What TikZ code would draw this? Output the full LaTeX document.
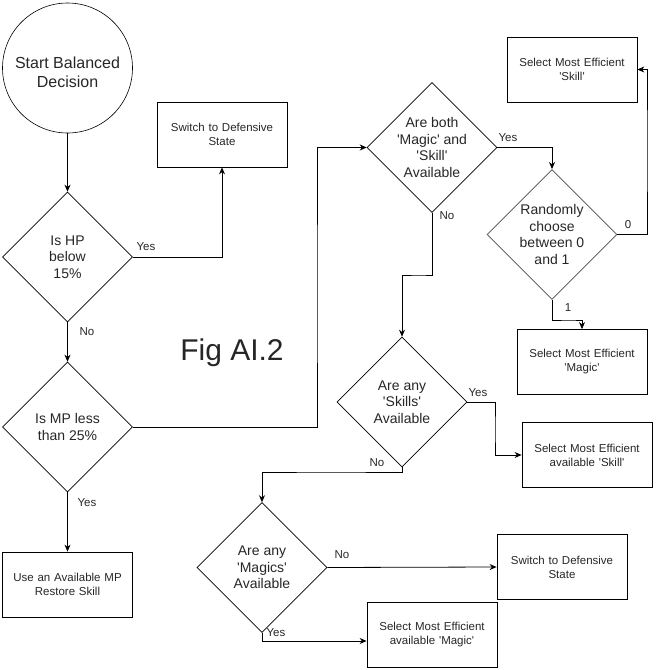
\documentclass[tikz,border=0pt]{standalone}
\usepackage{fontspec}
\setmainfont{Liberation Sans}
\usetikzlibrary{shapes.geometric,arrows.meta}
\newcommand{\aq}{\textquotesingle}
\begin{document}
\begin{tikzpicture}[x=1pt,y=-1pt,
  every node/.style={font=\fontsize{11.5}{14}\selectfont},
  box/.style={draw=black,line width=0.8pt,minimum width=130pt,minimum height=65pt,align=center,inner sep=2pt,text width=126pt,text=black!85},
  dia/.style={draw=black,line width=0.6pt,shape=diamond,minimum width=130pt,minimum height=130pt,inner sep=-9pt,align=center,font=\fontsize{14}{16.5}\selectfont,text=black!85},
  lbl/.style={font=\fontsize{11.5}{13}\selectfont,inner sep=0pt,text=black!85},
  arr/.style={draw=black,line width=0.8pt,-{Stealth[length=7pt,width=6pt]}},
]
\useasboundingbox (0,0) rectangle (658,670);
% nodes
\node[draw=black,line width=0.6pt,circle,minimum size=130pt,inner sep=0pt] (start) at (67.5,68) {};
\node[align=center,font=\fontsize{16}{19}\selectfont,text=black!85,inner sep=0pt] (starttext) at (67.5,72.5) {Start Balanced\\Decision};
\node[dia] (d1) at (67.5,257) {Is HP\\below\\15\%};
\node[box] (sw1) at (222,134.5) {Switch to Defensive\\State};
\node[dia] (d2) at (67.5,427) {Is MP less\\than 25\%};
\node[box] (mp) at (67.5,584.5) {Use an Available MP\\Restore Skill};
\node[dia] (d3) at (432,147.5) {Are both\\\aq Magic\aq{} and\\\aq Skill\aq\\Available};
\node[dia,draw=black!60,line width=0.9pt] (d4) at (552,234.5) {Randomly\\choose\\between 0\\and 1};
\node[box] (sk) at (572,69.5) {Select Most Efficient\\\aq Skill\aq};
\node[box] (mg) at (582,362) {Select Most Efficient\\\aq Magic\aq};
\node[dia] (d5) at (402,402) {Are any\\\aq Skills\aq\\Available};
\node[box] (sk2) at (587,455) {Select Most Efficient\\available \aq Skill\aq};
\node[dia] (d6) at (262,567.5) {Are any\\\aq Magics\aq\\Available};
\node[box] (sw2) at (562,567) {Switch to Defensive\\State};
\node[box] (mg2) at (432,635) {Select Most Efficient\\available \aq Magic\aq};
\node[font=\fontsize{30}{32}\selectfont,text=black!85] (fig) at (232,353) {Fig AI.2};
% junctions
\coordinate (j1) at (317,300);
\coordinate (j2) at (647,150);
\coordinate (j3) at (570,320);
\coordinate (j4) at (420,275);
\coordinate (j5) at (495,430);
\coordinate (j6) at (330,472);
% connectors
\draw[arr] (start) -- (d1);
\draw[arr] (d1.east) -| (sw1.south);
\draw[arr] (d1) -- (d2);
\draw[arr] (d2) -- (mp);
\draw[arr] (d2.east) -| (j1) |- (d3.west);
\draw[arr] (d3.east) -| (d4.north);
\draw[arr] (d4.east) -| (j2) |- (sk.east);
\draw[arr] (d4.south) |- (j3) -| (mg.north);
\draw[arr] (d3.south) |- (j4) -| (d5.north);
\draw[arr] (d5.east) -| (j5) |- (sk2.west);
\draw[arr] (d5.south) |- (j6) -| (d6.north);
\draw[arr] (d6.east) -- (sw2.west);
\draw[arr] (d6.south) |- ([yshift=-6pt]mg2.west);
% labels
\node[lbl] (l1) at (146,247) {Yes};
\node[lbl] (l2) at (87,332) {No};
\node[lbl] (l3) at (87,503) {Yes};
\node[lbl] (l4) at (508,138) {Yes};
\node[lbl] (l5) at (447,216) {No};
\node[lbl] (l6) at (628,225) {0};
\node[lbl] (l7) at (568,308) {1};
\node[lbl] (l8) at (478,393) {Yes};
\node[lbl] (l9) at (377,463) {No};
\node[lbl] (l10) at (342,555) {No};
\node[lbl] (l11) at (276,633) {Yes};
\end{tikzpicture}
\end{document}
